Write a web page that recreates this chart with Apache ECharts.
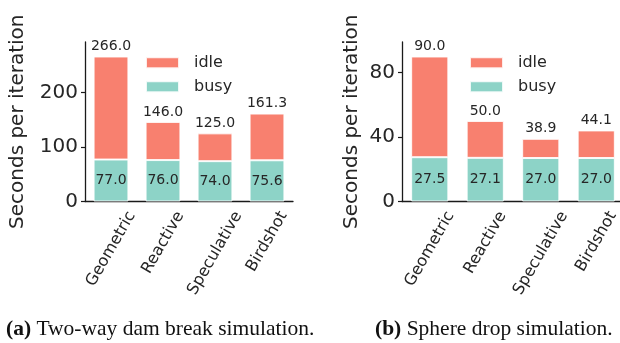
<!DOCTYPE html>
<html><head><meta charset="utf-8">
<script src="https://cdn.jsdelivr.net/npm/echarts@6/dist/echarts.min.js"></script>
<style>html,body{margin:0;padding:0;background:#fff}#c{width:620px;height:343px}</style>
</head><body><div id="c"></div>
<script>
// ---- data ----
const categories = ['Geometric', 'Reactive', 'Speculative', 'Birdshot'];
const damTotal = [266.0, 146.0, 125.0, 161.3];
const damBusy = [77.0, 76.0, 74.0, 75.6];
const sphereTotal = [90.0, 50.0, 38.9, 44.1];
const sphereBusy = [27.5, 27.1, 27.0, 27.0];
const damYMax = 292.6;
const sphereYMax = 99;
const damTicks = [0, 100, 200];
const sphereTicks = [0, 40, 80];
const yTitle = 'Seconds per iteration';
const legendNames = ['idle', 'busy'];
const captionA = ['(a)', 'Two-way dam break simulation.'];
const captionB = ['(b)', 'Sphere drop simulation.'];

// ---- style ----
const FONT = 'DejaVu Sans';
const SERIF = 'Liberation Serif';
const TXT = '#262626';
const AX = '#1a1a1a';
const C_IDLE = '#F8806F';
const C_BUSY = '#8DD3C7';
const CAT_FONT = 16;

const mctx = document.createElement('canvas').getContext('2d');
mctx.font = CAT_FONT + 'px "' + FONT + '"';
const textLen = t => mctx.measureText(t).width;

const panels = [
  {grid: {left: 85, right: 327, top: 42, bottom: 141.5}, total: damTotal, busy: damBusy,
   yMax: damYMax, ticks: damTicks, nameGap: 57, legendLeft: 145, caption: captionA, captionLeft: 6},
  {grid: {left: 402, right: -4, top: 42, bottom: 141.5}, total: sphereTotal, busy: sphereBusy,
   yMax: sphereYMax, ticks: sphereTicks, nameGap: 40, legendLeft: 469, caption: captionB, captionLeft: 375}
];

const grids = [], xAxes = [], yAxes = [], series = [], legends = [], titles = [];

panels.forEach((p, gi) => {
  grids.push(Object.assign({outerBoundsMode: 'none', containLabel: false}, p.grid));
  const mainX = xAxes.length;
  xAxes.push({
    type: 'category', gridIndex: gi, data: categories, position: 'bottom',
    axisLine: {show: true, lineStyle: {color: AX, width: 1.3}},
    axisTick: {show: false}, axisLabel: {show: false}, splitLine: {show: false}
  });
  // one label axis per category to emulate centered rotated labels
  categories.forEach((c, k) => {
    const L = textLen(c);
    xAxes.push({
      type: 'category', gridIndex: gi, data: categories, position: 'bottom',
      axisLine: {show: false}, axisTick: {show: false}, splitLine: {show: false},
      axisLabel: {
        show: true, interval: (idx) => idx === k, rotate: 60,
        align: 'center', verticalAlign: 'middle',
        margin: 11.3 + 0.433 * L,
        fontFamily: FONT, fontSize: CAT_FONT, color: TXT
      }
    });
  });
  yAxes.push({
    type: 'value', gridIndex: gi, min: 0, max: p.yMax,
    name: yTitle, nameLocation: 'middle', nameRotate: 90, nameGap: p.nameGap,
    nameTextStyle: {fontFamily: FONT, fontSize: 20, color: TXT},
    axisLine: {show: true, lineStyle: {color: AX, width: 1.3}},
    axisTick: {show: true, inside: false, length: 4, customValues: p.ticks, lineStyle: {color: AX, width: 1.2}},
    axisLabel: {show: true, margin: 7, customValues: p.ticks, fontFamily: FONT, fontSize: 20, color: TXT},
    splitLine: {show: false}
  });
  const idle = p.total.map((t, i) => +(t - p.busy[i]).toFixed(2));
  series.push({
    name: 'busy', type: 'bar', stack: 's' + gi, xAxisIndex: mainX, yAxisIndex: gi,
    data: p.busy, barWidth: '67%',
    itemStyle: {color: C_BUSY, borderColor: 'rgba(255,255,255,0.85)', borderWidth: 1},
    label: {show: true, position: 'inside', formatter: (d) => p.busy[d.dataIndex].toFixed(1),
      fontFamily: FONT, fontSize: 14, color: TXT},
    emphasis: {disabled: true}
  });
  series.push({
    name: 'idle', type: 'bar', stack: 's' + gi, xAxisIndex: mainX, yAxisIndex: gi,
    data: idle, barWidth: '67%',
    itemStyle: {color: C_IDLE, borderColor: 'rgba(255,255,255,0.85)', borderWidth: 1},
    label: {show: true, position: 'top', distance: 3, formatter: (d) => p.total[d.dataIndex].toFixed(1),
      fontFamily: FONT, fontSize: 14, color: TXT},
    emphasis: {disabled: true}
  });
  legends.push({
    data: legendNames, orient: 'vertical', left: p.legendLeft, top: 54.8, padding: 0,
    itemWidth: 33, itemHeight: 11, itemGap: 8, icon: 'rect', selectedMode: false,
    textStyle: {fontFamily: FONT, fontSize: 16, color: TXT, lineHeight: 16, padding: [0, 0, 0, 10]}
  });
  titles.push({
    text: '{b|' + p.caption[0] + '} ' + p.caption[1],
    left: p.captionLeft, top: 317, padding: 0,
    textStyle: {fontFamily: SERIF, fontSize: 21.5, fontWeight: 'normal', color: '#111', lineHeight: 24,
      rich: {b: {fontFamily: SERIF, fontSize: 21.5, fontWeight: 'bold', color: '#111', lineHeight: 24}}}
  });
});

const chart = echarts.init(document.getElementById('c'), null, {renderer: 'canvas'});
chart.setOption({
  animation: false, backgroundColor: '#fff',
  title: titles, legend: legends, grid: grids, xAxis: xAxes, yAxis: yAxes, series: series
});
</script></body></html>
